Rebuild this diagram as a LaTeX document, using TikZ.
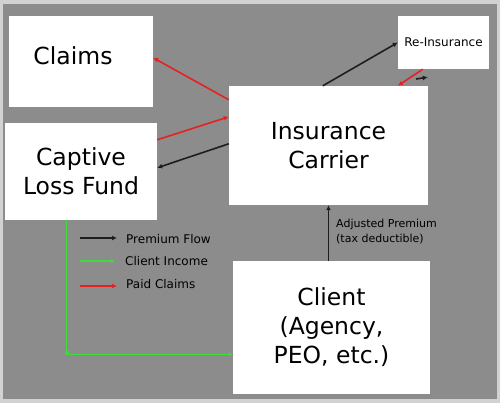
\documentclass[tikz,border=0pt]{standalone}
\usepackage{fontspec}
\setmainfont{DejaVu Sans}
\usetikzlibrary{arrows.meta}
\definecolor{bggray}{HTML}{8D8C8D}
\definecolor{rimgray}{HTML}{D2D2D2}
\definecolor{claimred}{HTML}{E42222}
\definecolor{incomegreen}{HTML}{3CDC3C}
\definecolor{premblack}{HTML}{1E1E1E}
\begin{document}
\begin{tikzpicture}[x=1pt,y=-1pt,
  box/.style={draw=none,fill=white,inner sep=0pt,align=center,font=\fontsize{23.5}{29}\selectfont},
  premium/.style={premblack,line width=1.6pt,-{Latex[length=5pt,width=5pt]}},
  paid/.style={claimred,line width=1.6pt,-{Latex[length=5pt,width=5pt]}},
  income/.style={incomegreen,line width=1.3pt,-{Latex[length=4pt,width=4pt]}},
  legtext/.style={anchor=west,inner sep=0pt,font=\fontsize{12}{14}\selectfont}]

\useasboundingbox (0,0) rectangle (500,403) ;
\fill[rimgray] (0,0) rectangle (500,403) ;
\fill[bggray] (3,4) rectangle (497,399) ;

\node[box,minimum width=144pt,minimum height=91pt] (claims) at (81,61.5) {} ;
\node[box] (claimstext) at (73,56) {Claims} ;
\node[box,minimum width=152pt,minimum height=97pt] (captive) at (81,171.5) {Captive\\Loss Fund} ;
\node[box,minimum width=199pt,minimum height=119pt] (carrier) at (328.5,145.5) {Insurance\\Carrier} ;
\node[box,minimum width=91pt,minimum height=53pt,font=\fontsize{12}{14}\selectfont] (reins) at (443.5,42.5) {Re-Insurance} ;
\node[box,minimum width=197pt,minimum height=133pt] (client) at (331.5,327.5) {Client\\(Agency,\\PEO, etc.)} ;

\draw[paid] ([yshift=-14pt]carrier.north west)--([yshift=-42pt]claims.north east) ;
\draw[paid] ([yshift=-17pt]captive.north east)--([yshift=-31pt]carrier.north west) ;
\draw[premium] ([yshift=-58pt]carrier.north west)--([yshift=-45pt]captive.north east) ;
\draw[premium] ([xshift=94pt]carrier.north west)--(reins.west) ;
\draw[paid] ([xshift=25pt]reins.south west)--([xshift=169pt]carrier.north west) ;
\coordinate (tickstart) at (416,79) ;
\draw[premium] (tickstart)--([xshift=30pt,yshift=-8pt]reins.south west) ;
\draw[premium] (client.north -| carrier.south)--(carrier.south) ;
\draw[income] ([xshift=62pt]captive.south west) |- ([yshift=40pt]client.south west) ;
\fill[incomegreen] (67,353) circle (2pt) ;

\node[anchor=west,inner sep=0pt,align=left,font=\fontsize{11}{15}\selectfont] (adjusted) at (336,232) {Adjusted Premium\\(tax deductible)} ;

\coordinate (premA) at (80,238) ;
\coordinate (premB) at (117,238) ;
\coordinate (incA) at (80,261) ;
\coordinate (incB) at (115,261) ;
\coordinate (paidA) at (80,286) ;
\coordinate (paidB) at (117,286) ;
\draw[premium] (premA)--(premB) ;
\draw[income] (incA)--(incB) ;
\draw[paid] (paidA)--(paidB) ;
\node[legtext] (premtext) at (126,239) {Premium Flow} ;
\node[legtext] (inctext) at (125,261) {Client Income} ;
\node[legtext] (paidtext) at (126,284) {Paid Claims} ;
\end{tikzpicture}
\end{document}
